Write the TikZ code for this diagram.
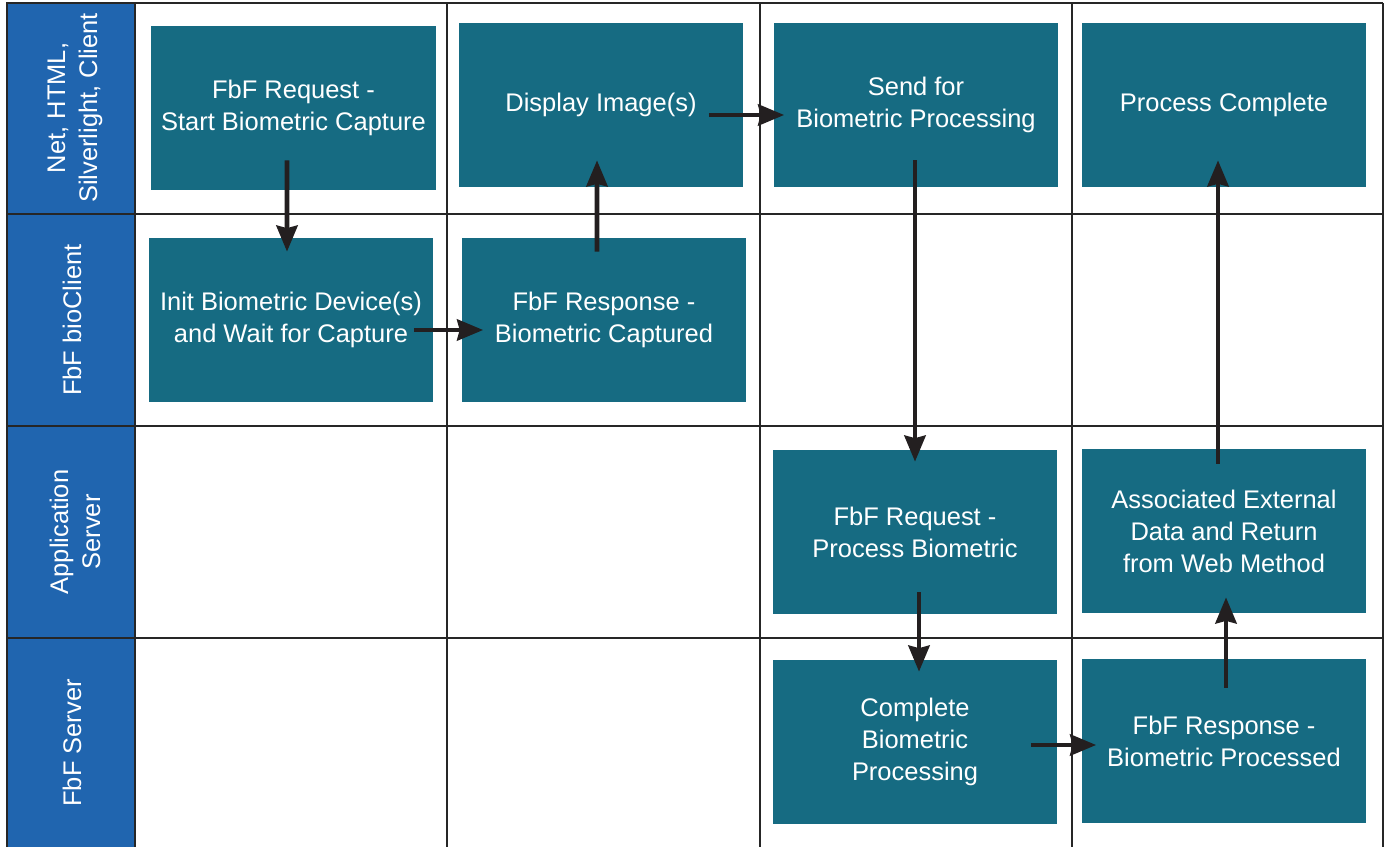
\documentclass[tikz,border=0pt]{standalone}
\usepackage{fontspec}
\setmainfont{Liberation Sans}
\usetikzlibrary{arrows.meta, positioning, calc}
\definecolor{taskteal}{RGB}{22, 107, 130}
\definecolor{laneblue}{RGB}{32, 101, 175}
\definecolor{gridgray}{RGB}{38, 38, 38}
\definecolor{arrowblack}{RGB}{35, 31, 32}

\begin{document}
\begin{tikzpicture}[
        x=0.02cm, y=-0.02cm,
        task/.style={rectangle, fill=taskteal, text=white, minimum width=5.7cm, minimum height=3.28cm, align=center, inner sep=0pt, font=\fontsize{14.5}{18.2}\selectfont},
        lanelabel/.style={rotate=90, text=white, align=center, font=\fontsize{14.5}{18.2}\selectfont},
        gridline/.style={draw=gridgray, line width=1.1pt},
        laneline/.style={draw=gridgray, line width=1.6pt},
        arrow/.style={-{Stealth[length=0.52cm, width=0.42cm, inset=0.05cm]}, draw=arrowblack, fill=arrowblack, line width=2.8pt}
    ]
        \useasboundingbox (0,0) rectangle (1385,847);

        % Lanes
        \fill[laneblue] (7,3) rectangle (135,847);
        \draw[gridline] (135,214) -- (1383,214);
        \draw[gridline] (135,426) -- (1383,426);
        \draw[gridline] (135,638) -- (1383,638);
        \draw[gridline] (447,3) -- (447,847);
        \draw[gridline] (760,3) -- (760,847);
        \draw[gridline] (1072,3) -- (1072,847);
        \draw[gridline] (1383,3) -- (1383,847);
        \draw[laneline] (7,847) -- (7,3) -- (1383,3);
        \draw[laneline] (7,214) -- (135,214);
        \draw[laneline] (7,426) -- (135,426);
        \draw[laneline] (7,638) -- (135,638);
        \draw[laneline] (135,3) -- (135,847);

        \node[lanelabel] (lane1) at (75,108) {Net, HTML,\\Silverlight, Client};
        \node[lanelabel] (lane2) at (72,320) {FbF bioClient};
        \node[lanelabel] (lane3) at (75,532) {Application\\Server};
        \node[lanelabel] (lane4) at (72,743) {FbF Server};

        % Client row
        \node[task] (start) at (293.5,108) {FbF Request -\\Start Biometric Capture};
        \node[task] (display) at (601,105) {Display Image(s)};
        \node[task] (send) at (916,105) {Send for\\Biometric Processing};
        \node[task] (complete) at (1224,105) {Process Complete};

        % bioClient row
        \node[task] (init) at (291,320) {Init Biometric Device(s)\\and Wait for Capture};
        \node[task] (captured) at (604,320) {FbF Response -\\Biometric Captured};

        % Application server row
        \node[task] (process) at (915,532) {FbF Request -\\Process Biometric};
        \node[task] (assoc) at (1224,531) {Associated External\\Data and Return\\from Web Method};

        % FbF server row
        \node[task] (compproc) at (915,742) {Complete\\Biometric\\Processing};
        \node[task] (processed) at (1224,741) {FbF Response -\\Biometric Processed};

        \draw[arrow] ([xshift=-0.13cm, yshift=0.6cm]start.south) -- ([xshift=-0.08cm, yshift=-0.28cm]init.north);
        \draw[arrow] ([xshift=-0.4cm, yshift=-0.2cm]init.east) -- ([xshift=0.44cm, yshift=-0.2cm]captured.west);
        \draw[arrow] ([xshift=-0.14cm, yshift=-0.28cm]captured.north) -- ([xshift=-0.08cm, yshift=0.54cm]display.south);
        \draw[arrow] ([xshift=-0.7cm, yshift=-0.2cm]display.east) -- ([xshift=0.22cm, yshift=-0.2cm]send.west);
        \draw[arrow] ([xshift=-0.02cm, yshift=0.54cm]send.south) -- ([yshift=-0.24cm]process.north);
        \draw[arrow] ([xshift=0.08cm, yshift=0.44cm]process.south) -- ([xshift=0.08cm, yshift=-0.24cm]compproc.north);
        \draw[arrow] ([xshift=-0.54cm, yshift=-0.06cm]compproc.east) -- ([xshift=0.3cm, yshift=-0.08cm]processed.west);
        \draw[arrow] ([xshift=0.04cm, yshift=-0.58cm]processed.north) -- ([xshift=0.04cm, yshift=0.32cm]assoc.south);
        \draw[arrow] ([xshift=-0.12cm, yshift=-0.3cm]assoc.north) -- ([xshift=-0.12cm, yshift=0.54cm]complete.south);
    \end{tikzpicture}
\end{document}
